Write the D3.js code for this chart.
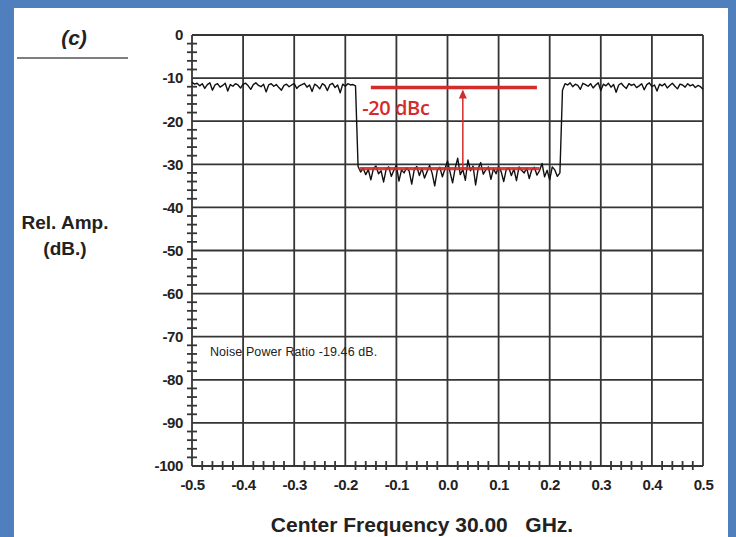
<!DOCTYPE html>
<html>
<head>
<meta charset="utf-8">
<script src="https://cdn.jsdelivr.net/npm/d3@7"></script>
<style>
  body { margin: 0; background: #4f7fbc; }
  svg { display: block; }
</style>
</head>
<body>
<svg id="chart" width="736" height="537"></svg>
<script>
// sweep data (dB)
const leftBand = [-11.0,-11.4,-11.2,-11.8,-11.3,-12.4,-11.5,-11.1,-12.8,-11.6,-11.3,-12.1,-11.7,-11.2,-13.0,-11.5,-11.9,-11.3,-11.6,-12.3,-11.4,-11.2,-11.8,-12.6,-11.5,-11.1,-11.7,-12.0,-11.4,-13.2,-11.6,-11.3,-11.9,-11.5,-12.2,-12.8,-11.7,-11.4,-12.0,-11.6,-11.3,-12.4,-11.8,-11.5,-11.2,-12.1,-11.6,-13.1,-11.4,-11.8,-12.5,-11.3,-11.7,-12.9,-11.5,-11.2,-12.2,-11.6,-13.4,-11.4,-11.9,-11.3,-11.6,-11.5,-11.8];
const notchBand = [-30.5,-31.8,-30.9,-32.4,-31.2,-33.6,-31.0,-30.4,-32.2,-31.5,-34.1,-31.1,-30.6,-32.8,-31.4,-30.2,-33.9,-31.3,-32.0,-30.8,-31.6,-34.6,-31.2,-30.5,-32.6,-31.0,-33.2,-31.7,-30.3,-32.1,-35.0,-31.4,-30.7,-32.9,-31.1,-29.2,-31.8,-34.3,-30.9,-28.6,-32.4,-31.2,-33.7,-29.0,-31.5,-30.4,-34.8,-31.0,-29.6,-32.3,-31.3,-30.6,-33.5,-31.0,-32.2,-30.5,-31.7,-34.0,-31.2,-30.8,-32.6,-31.1,-33.8,-30.6,-31.4,-32.0,-30.9,-33.3,-31.2,-30.7,-32.5,-31.5,-29.8,-32.9,-31.4,-33.6,-30.6,-31.3,-32.8,-32.0];
const rightBand = [-12.8,-11.3,-11.6,-11.1,-12.0,-11.4,-11.7,-12.6,-11.2,-11.5,-11.9,-11.3,-12.3,-11.6,-11.1,-12.9,-11.4,-11.8,-11.2,-12.1,-11.5,-13.3,-11.6,-11.2,-11.9,-12.4,-11.3,-11.7,-11.4,-12.2,-11.8,-11.3,-12.7,-11.5,-11.1,-12.0,-11.6,-13.0,-11.4,-11.8,-11.3,-12.3,-11.7,-11.2,-11.9,-12.5,-11.4,-11.6,-12.1,-11.3,-11.8,-11.5,-12.2,-11.7,-12.0,-12.6];
// frequency span of each band (GHz offset from centre)
const bandSpans = [[-0.5, -0.18], [-0.175, 0.22], [0.225, 0.5]];

const xTicks = [-0.5, -0.4, -0.3, -0.2, -0.1, 0.0, 0.1, 0.2, 0.3, 0.4, 0.5];
const yTicks = [0, -10, -20, -30, -40, -50, -60, -70, -80, -90, -100];

// annotation values
const refLevel = -12.2, notchLevel = -31.0;
const refSpan = [-0.15, 0.175], notchSpan = [-0.172, 0.18];
const arrowFreq = 0.03;
const dbcLabel = "-20 dBc";
const nprText = "Noise Power Ratio -19.46 dB.";

const svg = d3.select("#chart");

// white panel inside the blue frame
svg.append("rect")
  .attr("x", 14).attr("y", 8)
  .attr("width", 714).attr("height", 540)
  .attr("fill", "#ffffff");

const x = d3.scaleLinear().domain([-0.5, 0.5]).range([192, 703]);
const y = d3.scaleLinear().domain([0, -100]).range([35, 466]);

const gridColor = "#353535";

// grid
svg.append("g")
  .selectAll("line")
  .data(xTicks)
  .join("line")
  .attr("x1", (d) => x(d)).attr("x2", (d) => x(d))
  .attr("y1", y(0)).attr("y2", y(-100))
  .attr("stroke", gridColor)
  .attr("stroke-width", 1.8);

svg.append("g")
  .selectAll("line")
  .data(yTicks)
  .join("line")
  .attr("x1", x(-0.5)).attr("x2", x(0.5))
  .attr("y1", (d) => y(d)).attr("y2", (d) => y(d))
  .attr("stroke", gridColor)
  .attr("stroke-width", 1.8);

// minor ticks crossing the axes
const yMinor = d3.range(0, -100, -2).filter((d) => d % 10 !== 0);
svg.append("g")
  .selectAll("line")
  .data(yMinor)
  .join("line")
  .attr("x1", x(-0.5) - 5).attr("x2", x(-0.5) + 5)
  .attr("y1", (d) => y(d)).attr("y2", (d) => y(d))
  .attr("stroke", gridColor)
  .attr("stroke-width", 1.8);

const xMinor = d3.range(-0.48, 0.5, 0.02).filter((d) => Math.abs(Math.round(d * 10) - d * 10) > 0.01);
svg.append("g")
  .selectAll("line")
  .data(xMinor)
  .join("line")
  .attr("x1", (d) => x(d)).attr("x2", (d) => x(d))
  .attr("y1", y(-100) - 5).attr("y2", y(-100) + 4)
  .attr("stroke", gridColor)
  .attr("stroke-width", 1.8);

// axes (labels only)
const yAxis = svg.append("g")
  .attr("transform", `translate(${x(-0.5) - 6},0)`)
  .call(d3.axisLeft(y).tickValues(yTicks).tickSize(0).tickFormat((d) => String(d)));
yAxis.select(".domain").remove();

const xAxis = svg.append("g")
  .attr("transform", `translate(0,${y(-100) + 10})`)
  .call(d3.axisBottom(x).tickValues(xTicks).tickSize(0).tickFormat((d) => d3.format(".1f")(d).replace("\u2212", "-")));
xAxis.select(".domain").remove();

svg.selectAll(".tick text")
  .attr("font-family", "Liberation Sans, Arial, sans-serif")
  .attr("font-size", 15)
  .attr("font-weight", "bold")
  .attr("letter-spacing", "-0.4px")
  .attr("fill", "#222");

// trace
const trace = [];
[leftBand, notchBand, rightBand].forEach((band, k) => {
  const [f0, f1] = bandSpans[k];
  band.forEach((v, i) => {
    trace.push({ f: f0 + (i * (f1 - f0)) / (band.length - 1), v });
  });
});

svg.append("path")
  .datum(trace)
  .attr("fill", "none")
  .attr("stroke", "#111")
  .attr("stroke-width", 1.4)
  .attr("stroke-linejoin", "round")
  .attr("d", d3.line().x((d) => x(d.f)).y((d) => y(d.v)));

// red annotation
const red = "#d42b2b";
svg.append("line")
  .attr("x1", x(refSpan[0])).attr("x2", x(refSpan[1]))
  .attr("y1", y(refLevel)).attr("y2", y(refLevel))
  .attr("stroke", red).attr("stroke-width", 3.5);

svg.append("line")
  .attr("x1", x(notchSpan[0])).attr("x2", x(notchSpan[1]))
  .attr("y1", y(notchLevel)).attr("y2", y(notchLevel))
  .attr("stroke", red).attr("stroke-width", 3.2)
  .attr("opacity", 0.9);

svg.append("line")
  .attr("x1", x(arrowFreq)).attr("x2", x(arrowFreq))
  .attr("y1", y(notchLevel)).attr("y2", y(refLevel) + 4)
  .attr("stroke", red).attr("stroke-width", 1.5);

const ax = x(arrowFreq), ay = y(refLevel) + 2;
svg.append("path")
  .attr("d", `M${ax},${ay} L${ax - 4},${ay + 9} L${ax + 4},${ay + 9} Z`)
  .attr("fill", red);

svg.append("text")
  .attr("x", x(-0.167)).attr("y", y(-18.6))
  .attr("font-family", "Open Sans, Liberation Sans, sans-serif")
  .attr("font-size", 20)
  .attr("font-weight", 600)
  .attr("letter-spacing", "-0.4px")
  .attr("fill", red)
  .text(dbcLabel);

// NPR readout
svg.append("text")
  .attr("x", x(-0.465)).attr("y", y(-74.5))
  .attr("font-family", "Liberation Sans, Arial, sans-serif")
  .attr("font-size", 12.5)
  .attr("letter-spacing", "0.1px")
  .attr("fill", "#222")
  .text(nprText);

// titles
svg.append("text")
  .attr("x", 74).attr("y", 45)
  .attr("text-anchor", "middle")
  .attr("font-family", "Liberation Sans, Arial, sans-serif")
  .attr("font-size", 21)
  .attr("font-weight", "bold")
  .attr("font-style", "italic")
  .attr("fill", "#222")
  .text("(c)");

svg.append("line")
  .attr("x1", 17).attr("x2", 128)
  .attr("y1", 58).attr("y2", 58)
  .attr("stroke", "#555")
  .attr("stroke-width", 1.5);

const yTitle = svg.append("text")
  .attr("text-anchor", "middle")
  .attr("font-family", "Liberation Sans, Arial, sans-serif")
  .attr("font-size", 19)
  .attr("font-weight", "bold")
  .attr("fill", "#222");
yTitle.append("tspan").attr("x", 65).attr("y", 229).text("Rel. Amp.");
yTitle.append("tspan").attr("x", 65).attr("y", 255).text("(dB.)");

svg.append("text")
  .attr("x", 422).attr("y", 532)
  .attr("text-anchor", "middle")
  .attr("font-family", "Liberation Sans, Arial, sans-serif")
  .attr("font-size", 21)
  .attr("font-weight", "bold")
  .attr("fill", "#222")
  .attr("xml:space", "preserve")
  .text("Center Frequency 30.00   GHz.");
</script>
</body>
</html>
